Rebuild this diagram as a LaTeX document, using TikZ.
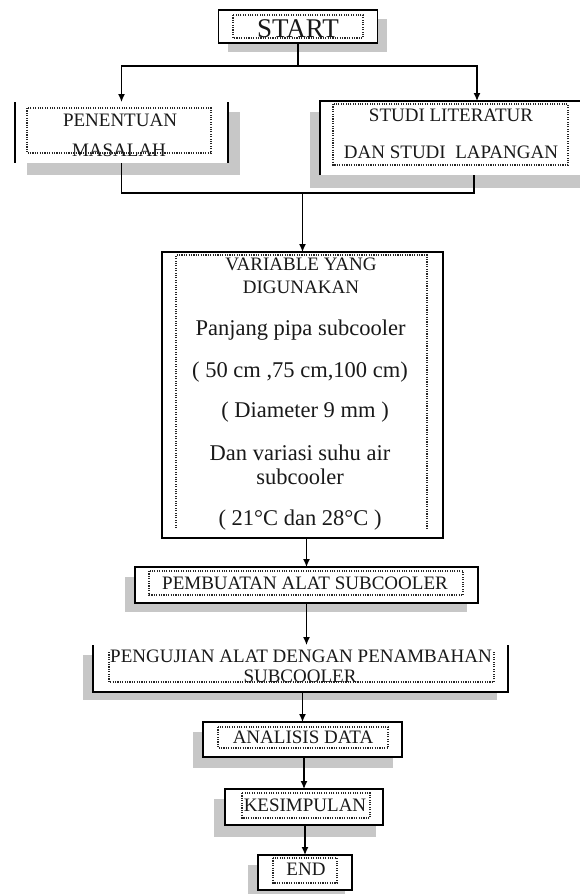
\documentclass[tikz,border=0pt]{standalone}
\usepackage{fontspec}
\setmainfont{Liberation Serif}
\usetikzlibrary{calc,arrows.meta,backgrounds}
\begin{document}
\begin{tikzpicture}[x=1pt,y=-1pt,
  box/.style={rectangle, inner sep=0pt, outer sep=0pt, fill=white},
  frame/.style={draw=black, line width=1.6pt},
  innerbox/.style={draw=black!85, line width=1.1pt, dash pattern=on 1.1pt off 1.3pt},
  shade/.style={fill=black!22},
  conn/.style={draw=black, line width=1.3pt},
  arr/.style={conn, -{Latex[length=8pt,width=7pt]}},
  capsbig/.style={font=\fontsize{27}{30}\selectfont, inner sep=0pt, text=black!90},
  caps/.style={font=\fontsize{19}{22}\selectfont, inner sep=0pt, text=black!90},
  lower/.style={font=\fontsize{22.5}{26}\selectfont, inner sep=0pt, text=black!90},
]
\useasboundingbox (0,0) rectangle (580,894);

% ---------- box nodes ----------
\node[box, minimum width=159pt, minimum height=33pt] (start) at (298,26.5) {};
\node[box, minimum width=213pt, minimum height=61pt] (masalah) at (121.5,132.5) {};
\node[box, minimum width=260pt, minimum height=74pt] (studi) at (450,138) {};
\node[box, minimum width=281pt, minimum height=286pt] (variabel) at (302.5,395) {};
\node[box, minimum width=343pt, minimum height=36pt] (pembuatan) at (306.5,585) {};
\node[box, minimum width=415pt, minimum height=47pt] (pengujian) at (300.5,668.5) {};
\node[box, minimum width=199pt, minimum height=35pt] (analisis) at (302.5,739.5) {};
\node[box, minimum width=158pt, minimum height=36pt] (kesimpulan) at (304,807) {};
\node[box, minimum width=94pt, minimum height=35pt] (end) at (305,872.5) {};

% ---------- shadows ----------
\begin{scope}[on background layer]
  \fill[shade] (228,19) rectangle (387,52);
  \fill[shade] (27,112) rectangle (240,175);
  \fill[shade] (310,112) rectangle (580,188);
  \fill[shade] (125,577) rectangle (467,612);
  \fill[shade] (83,655) rectangle (497,700);
  \fill[shade] (193,732) rectangle (393,768);
  \fill[shade] (214,799) rectangle (376,837);
  \fill[shade] (248,865) rectangle (345,894);
\end{scope}

% ---------- outer frames ----------
\draw[frame] (start.north west) rectangle (start.south east);
\draw[frame] (masalah.north west) -- (masalah.south west);
\draw[frame] (masalah.north east) -- (masalah.south east);
\draw[frame] (studi.south west) -- (studi.north west) -- (studi.north east);
\draw[frame] (variabel.north west) rectangle (variabel.south east);
\draw[frame] (pembuatan.north west) rectangle (pembuatan.south east);
\draw[frame] (pengujian.north west) -- (pengujian.south west) -- (pengujian.south east) -- (pengujian.north east);
\draw[frame] (analisis.north west) rectangle (analisis.south east);
\draw[frame] (kesimpulan.north west) rectangle (kesimpulan.south east);
\draw[frame] (end.north west) rectangle (end.south east);

% ---------- dotted inner frames ----------
\draw[innerbox] (233,15) rectangle (363,38);
\draw[innerbox] (27,108) rectangle (211,153);
\draw[innerbox] (333,104) rectangle (568,165);
\draw[innerbox] (176,528) -- (176,255) -- (427,255) -- (427,528);
\draw[innerbox] (149,571) rectangle (463,595);
\draw[innerbox] (109,652) -- (109,682) -- (494,682) -- (494,652);
\draw[innerbox] (218,727) rectangle (388,748);
\draw[innerbox] (242,793) rectangle (370,818);
\draw[innerbox] (273,858) rectangle (337,883);

% ---------- texts ----------
\node[capsbig] (tstart) at (298,28.5) {START};
\node[caps] (tmas1) at (120,120) {PENENTUAN};
\node[caps] (tmas2) at (119,150) {MASALAH};
\node[caps] (tstu1) at (451,115) {STUDI LITERATUR};
\node[caps] (tstu2) at (451,152) {DAN STUDI\ \ LAPANGAN};
\node[caps] (tvar1) at (301,264) {VARIABLE YANG};
\node[caps] (tvar2) at (301,287) {DIGUNAKAN};
\node[lower] (tvar3) at (300.5,330) {Panjang pipa subcooler};
\node[lower] (tvar4) at (300,372) {( 50 cm ,75 cm,100 cm)};
\node[lower] (tvar5) at (305,412) {( Diameter 9 mm )};
\node[lower] (tvar6) at (300,453) {Dan variasi suhu air};
\node[lower] (tvar7) at (300,477) {subcooler};
\node[lower] (tvar8) at (300,520) {( 21°C dan 28°C )};
\node[caps] (tpem) at (305,583) {PEMBUATAN ALAT SUBCOOLER};
\node[caps] (tpen1) at (301,656) {PENGUJIAN ALAT DENGAN PENAMBAHAN};
\node[caps] (tpen2) at (300,676) {SUBCOOLER};
\node[caps] (tana) at (303,737) {ANALISIS DATA};
\node[caps] (tkes) at (305,805) {KESIMPULAN};
\node[caps] (tend) at (306,869) {END};

% ---------- connectors ----------
\coordinate (studiin) at ($(studi.north west)+(157,0)$);
\coordinate (studiout) at ($(studi.south west)+(154,0)$);
\draw[conn] (start.south) -- ++(0,23) coordinate (j1);
\draw[arr] (j1) -| (masalah.north);
\draw[arr] (j1) -| (studiin);
\coordinate (j2) at (variabel.north |- 0,193);
\draw[conn] (masalah.south) |- (studiout |- j2) -- (studiout);
\draw[arr] (j2) -- (variabel.north);
\draw[arr] (pembuatan.north |- variabel.south) -- (pembuatan.north);
\draw[arr] (pembuatan.south) -- (pembuatan.south |- pengujian.north);
\draw[arr] (analisis.north |- pengujian.south) -- (analisis.north);
\draw[arr] (kesimpulan.north |- analisis.south) -- (kesimpulan.north);
\draw[arr] (end.north |- kesimpulan.south) -- (end.north);
\end{tikzpicture}
\end{document}
